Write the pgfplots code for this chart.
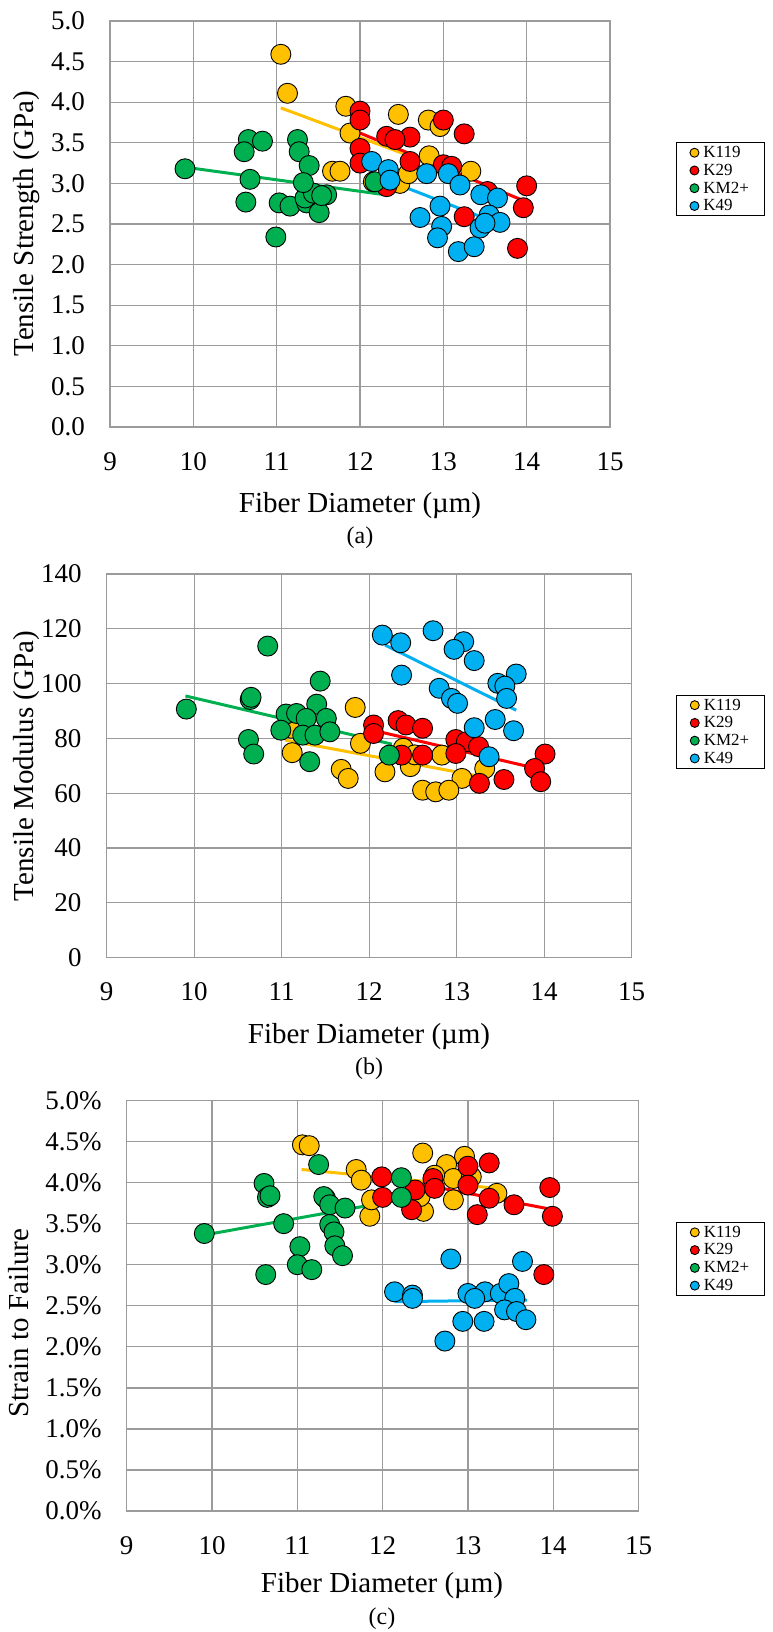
\documentclass[border=0pt]{standalone}
\usepackage{pgfplots}
\pgfplotsset{compat=1.18}
\usepackage{fontspec}
\setmainfont{Liberation Serif}
\definecolor{cY}{HTML}{FFC000}
\definecolor{cR}{HTML}{FF0000}
\definecolor{cG}{HTML}{00B050}
\definecolor{cB}{HTML}{00B0F0}
\definecolor{gridc}{RGB}{155,155,155}
\pgfplotsset{
  myax/.style={
    scale only axis, anchor=south west,
    xmin=9, xmax=15, xtick={9,10,...,15},
    grid=major,
    major grid style={draw=gridc, line width=1.3pt},
    axis line style={draw=gridc, line width=1.3pt},
    major tick length=0pt,
    tick label style={font=\fontsize{27}{30}\selectfont, inner sep=0pt},
    xticklabel style={anchor=north, yshift=-25pt},
    yticklabel style={anchor=east, xshift=-25pt},
    /pgf/number format/assume math mode=true,
    legend cell align=left,
    legend image code/.code={\draw[mark size=4.5pt, line width=0.7pt] plot coordinates {(0pt,0pt)};},
    legend style={anchor=north west, draw=black, line width=0.9pt, fill=white,
      font=\fontsize{17}{20}\selectfont, inner xsep=14pt, inner ysep=2pt,
      /tikz/column sep=3pt, /tikz/row sep=2pt, nodes={inner sep=1.5pt}},
  },
  pY/.style={only marks, mark=*, mark size=10pt, mark options={fill=cY, draw=black, line width=0.9pt}},
  pR/.style={only marks, mark=*, mark size=10pt, mark options={fill=cR, draw=black, line width=0.9pt}},
  pG/.style={only marks, mark=*, mark size=10pt, mark options={fill=cG, draw=black, line width=0.9pt}},
  pB/.style={only marks, mark=*, mark size=10pt, mark options={fill=cB, draw=black, line width=0.9pt}},
  tl/.style={no marks, line width=3pt, forget plot},
}
\begin{document}
\begin{tikzpicture}
\useasboundingbox (0pt,0pt) rectangle (772pt,-1632pt);
% ---------------- (a) ----------------
\begin{axis}[myax, at={(110pt,-427pt)}, width=500pt, height=406pt,
  ymin=0, ymax=5, ytick={0,0.5,...,5},
  yticklabel={\pgfmathprintnumber[fixed,fixed zerofill,precision=1]{\tick}},
  legend style={at={(1.131,0.701)}}]
\addplot[pY] table {
11.05 4.59
11.13 4.11
11.83 3.95
12.46 3.85
12.82 3.78
12.96 3.70
11.88 3.62
12.83 3.34
13.33 3.15
11.67 3.15
11.76 3.15
12.48 3.00
12.58 3.12
12.16 3.02
};
\addplot[pR] table {
12.00 3.89
12.00 3.78
13.00 3.78
13.25 3.61
12.32 3.58
12.60 3.57
12.42 3.54
12.00 3.43
12.00 3.25
12.60 3.27
13.00 3.23
13.10 3.21
13.53 2.90
14.00 2.97
13.96 2.70
13.25 2.59
13.89 2.20
12.32 2.96
};
\addplot[pG] table {
9.90 3.18
10.66 3.54
10.83 3.52
10.61 3.39
10.68 3.05
10.63 2.77
11.03 2.76
11.16 2.72
10.99 2.34
11.25 3.54
11.27 3.39
11.39 3.22
11.36 2.76
11.51 2.64
11.34 2.82
11.60 2.86
11.44 2.88
11.54 2.85
11.32 3.01
12.18 3.02
};
\addplot[pB] table {
12.14 3.27
12.34 3.17
12.36 3.04
12.80 3.12
13.06 3.12
13.20 2.98
13.45 2.86
13.65 2.82
12.96 2.72
12.72 2.58
13.55 2.61
13.68 2.52
13.44 2.45
12.98 2.47
12.93 2.33
13.18 2.16
13.37 2.22
13.50 2.51
};
\legend{K119,K29,KM2+,K49}
\addplot[tl, cY] coordinates {(11.05,3.93) (13.35,3.05)};
\addplot[tl, cR] coordinates {(12.0,3.62) (13.98,2.78)};
\addplot[tl, cG] coordinates {(9.9,3.2) (12.3,2.86)};
\addplot[tl, cB] coordinates {(12.12,3.12) (13.55,2.55)};
\end{axis}
% ---------------- (b) ----------------
\begin{axis}[myax, at={(106.7pt,-957.6pt)}, width=525pt, height=383.6pt,
  ymin=0, ymax=140, ytick={0,20,...,140},
  legend style={at={(1.084,0.685)}}]
\addplot[pY] table {
11.84 91.3
11.90 78.2
11.12 74.8
11.68 68.7
11.76 65.4
12.18 67.8
11.11 83.7
12.47 69.7
12.83 73.9
12.39 76.4
13.06 65.4
12.61 61.1
12.76 60.5
12.91 61.1
13.32 69.0
12.52 74.0
};
\addplot[pR] table {
12.05 84.9
12.05 81.8
12.33 86.5
12.42 84.9
12.61 83.7
12.99 79.6
13.11 78.8
13.25 77.0
12.99 74.5
12.37 73.9
12.61 73.9
13.26 63.6
13.54 65.0
14.01 74.3
13.89 69.0
13.96 64.2
};
\addplot[pG] table {
9.91 90.7
10.84 113.7
10.64 94.2
10.65 95.0
11.44 100.9
11.40 92.5
11.05 88.9
11.17 89.1
11.28 87.3
11.51 87.3
10.99 83.0
11.24 81.2
11.38 81.2
11.55 82.4
10.62 79.6
10.68 74.3
11.32 71.5
12.23 73.9
};
\addplot[pB] table {
12.15 117.7
12.36 114.9
12.73 119.3
13.08 115.3
12.97 112.5
13.20 108.4
12.37 103.1
13.68 103.5
13.47 100.1
13.55 99.1
13.57 94.6
12.80 98.3
12.94 94.6
13.01 92.8
13.44 86.9
13.65 82.8
13.20 83.9
13.37 73.3
};
\legend{K119,K29,KM2+,K49}
\addplot[tl, cY] coordinates {(11.04,79.4) (13.33,65.8)};
\addplot[tl, cR] coordinates {(12.0,83.3) (13.97,68.6)};
\addplot[tl, cG] coordinates {(9.9,95.5) (12.26,77.9)};
\addplot[tl, cB] coordinates {(12.18,114.1) (13.68,90.3)};
\end{axis}
% ---------------- (c) ----------------
\begin{axis}[myax, at={(126.7pt,-1511pt)}, width=511.8pt, height=410.5pt,
  ymin=0, ymax=5, ytick={0,0.5,...,5},
  yticklabel={\pgfmathprintnumber[fixed,fixed zerofill,precision=1]{\tick}\%},
  legend style={at={(1.073,0.704)}}]
\addplot[pY] table {
11.06 4.46
11.14 4.45
11.69 4.16
11.75 4.03
11.85 3.59
11.87 3.79
12.47 4.36
12.96 4.32
12.75 4.22
12.83 4.05
13.04 4.07
13.34 3.87
12.83 3.79
12.48 3.65
12.61 4.09
12.44 3.83
};
\addplot[pR] table {
11.99 4.07
12.00 3.82
12.34 3.67
12.38 3.91
12.59 4.05
12.61 3.93
13.00 4.20
13.25 4.24
13.00 3.97
13.25 3.81
13.11 3.61
13.54 3.73
13.96 3.94
13.99 3.59
13.89 2.88
};
\addplot[pG] table {
9.91 3.38
10.84 3.50
10.61 3.99
10.65 3.82
10.68 3.84
11.25 4.22
11.33 3.81
11.31 3.83
11.38 3.73
11.56 3.69
11.38 3.49
11.43 3.40
11.03 3.22
11.44 3.23
11.53 3.11
11.00 3.00
11.17 2.94
10.63 2.88
12.22 4.06
12.22 3.82
};
\addplot[pB] table {
12.80 3.07
13.64 3.04
12.14 2.67
12.35 2.63
12.35 2.59
13.00 2.65
13.20 2.67
13.08 2.59
13.38 2.65
13.48 2.77
13.55 2.59
13.43 2.45
13.57 2.43
13.68 2.33
12.94 2.31
13.19 2.31
12.73 2.07
};
\legend{K119,K29,KM2+,K49}
\addplot[tl, cY] coordinates {(11.05,4.16) (13.34,3.93)};
\addplot[tl, cR] coordinates {(12.0,4.07) (14.0,3.67)};
\addplot[tl, cG] coordinates {(9.9,3.36) (12.2,3.79)};
\addplot[tl, cB] coordinates {(12.14,2.55) (13.69,2.57)};
\end{axis}
% ---------------- labels ----------------
\tikzset{lab/.style={font=\fontsize{29}{32}\selectfont, inner sep=0pt}, captn/.style={font=\fontsize{24}{28}\selectfont, inner sep=0pt}}
\node[lab, rotate=90] at (27pt,-224pt) {Tensile Strength (GPa)};
\node[lab] at (360pt,-506pt) {Fiber Diameter (µm)};
\node[captn] at (360pt,-538pt) {(a)};
\node[lab, rotate=90] at (27pt,-766pt) {Tensile Modulus (GPa)};
\node[lab] at (369pt,-1037pt) {Fiber Diameter (µm)};
\node[captn] at (369pt,-1069pt) {(b)};
\node[lab, rotate=90] at (19pt,-1323pt) {Strain to Failure};
\node[lab] at (382pt,-1586pt) {Fiber Diameter (µm)};
\node[captn] at (382pt,-1619pt) {(c)};
\end{tikzpicture}
\end{document}
